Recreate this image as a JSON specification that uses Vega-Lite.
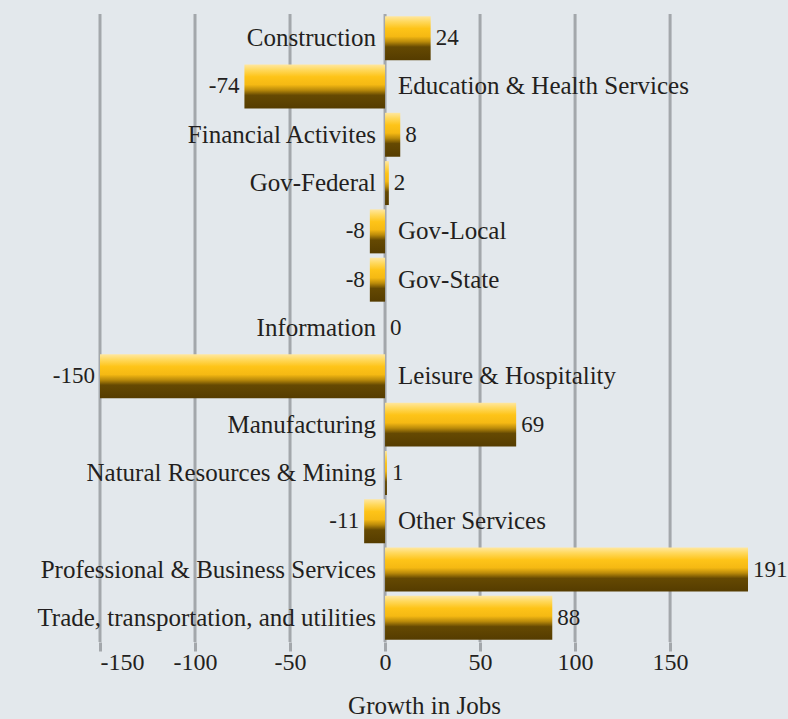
{
  "$schema": "https://vega.github.io/schema/vega-lite/v6.json",
  "autosize": "none",
  "width": 648,
  "height": 628,
  "padding": {"left": 100, "top": 14, "right": 40, "bottom": 77},
  "background": "#e3e8ec",
  "config": {
    "view": {"stroke": null},
    "font": "Liberation Serif",
    "text": {"font": "Liberation Serif", "fontSize": 25, "color": "#231f20"}
  },
  "data": {
    "values": [
      {"sector": "Construction", "growth": 24},
      {"sector": "Education & Health Services", "growth": -74},
      {"sector": "Financial Activites", "growth": 8},
      {"sector": "Gov-Federal", "growth": 2},
      {"sector": "Gov-Local", "growth": -8},
      {"sector": "Gov-State", "growth": -8},
      {"sector": "Information", "growth": 0},
      {"sector": "Leisure & Hospitality", "growth": -150},
      {"sector": "Manufacturing", "growth": 69},
      {"sector": "Natural Resources & Mining", "growth": 1},
      {"sector": "Other Services", "growth": -11},
      {"sector": "Professional & Business Services", "growth": 191},
      {"sector": "Trade, transportation, and utilities", "growth": 88}
    ]
  },
  "encoding": {
    "y": {"field": "sector", "type": "nominal", "sort": null, "axis": null,
          "scale": {"paddingInner": 0.09, "paddingOuter": 0.045}}
  },
  "layer": [
    {
      "mark": {"type": "rule", "color": "#a3a7ab", "strokeWidth": 3},
      "data": {"values": [{"g": -150}, {"g": -100}, {"g": -50}, {"g": 0}, {"g": 50}, {"g": 100}, {"g": 150}]},
      "encoding": {
        "x": {"field": "g", "type": "quantitative"},
        "y": null
      }
    },
    {
      "mark": {
        "type": "bar",
        "color": {
          "gradient": "linear", "x1": 0, "y1": 0, "x2": 0, "y2": 1,
          "stops": [
            {"offset": 0, "color": "#ffe7a0"},
            {"offset": 0.12, "color": "#ffd95e"},
            {"offset": 0.28, "color": "#fec418"},
            {"offset": 0.46, "color": "#f5b913"},
            {"offset": 0.58, "color": "#bb8b0a"},
            {"offset": 0.7, "color": "#654902"},
            {"offset": 1, "color": "#553c00"}
          ]
        }
      },
      "encoding": {
        "x": {
          "field": "growth", "type": "quantitative",
          "scale": {"domain": [-150, 191], "nice": false, "zero": true},
          "axis": {
            "values": [-150, -100, -50, 0, 50, 100, 150],
            "labelExpr": "datum.value + ''",
            "title": "Growth in Jobs",
            "grid": false,
            "domain": false,
            "ticks": true,
            "tickColor": "#a3a7ab",
            "tickWidth": 3,
            "tickSize": 9,
            "labelFont": "Liberation Serif",
            "labelFontSize": 24,
            "labelColor": "#231f20",
            "labelPadding": -1,
            "titleFont": "Liberation Serif",
            "titleFontSize": 25,
            "titleFontWeight": "normal",
            "titleColor": "#231f20",
            "titlePadding": 19
          }
        }
      }
    },
    {
      "transform": [{"filter": "datum.growth >= 0"}],
      "mark": {"type": "text", "align": "left", "baseline": "middle", "dx": 5, "fontSize": 23},
      "encoding": {
        "x": {"field": "growth", "type": "quantitative"},
        "text": {"field": "growth", "type": "nominal"}
      }
    },
    {
      "transform": [{"filter": "datum.growth < 0"}],
      "mark": {"type": "text", "align": "right", "baseline": "middle", "dx": -5, "fontSize": 23},
      "encoding": {
        "x": {"field": "growth", "type": "quantitative"},
        "text": {"field": "growth", "type": "nominal"}
      }
    },
    {
      "transform": [{"filter": "datum.growth >= 0"}],
      "mark": {"type": "text", "align": "right", "baseline": "middle", "dx": -9},
      "encoding": {
        "x": {"datum": 0, "type": "quantitative"},
        "text": {"field": "sector", "type": "nominal"}
      }
    },
    {
      "transform": [{"filter": "datum.growth < 0"}],
      "mark": {"type": "text", "align": "left", "baseline": "middle", "dx": 13},
      "encoding": {
        "x": {"datum": 0, "type": "quantitative"},
        "text": {"field": "sector", "type": "nominal"}
      }
    }
  ]
}
